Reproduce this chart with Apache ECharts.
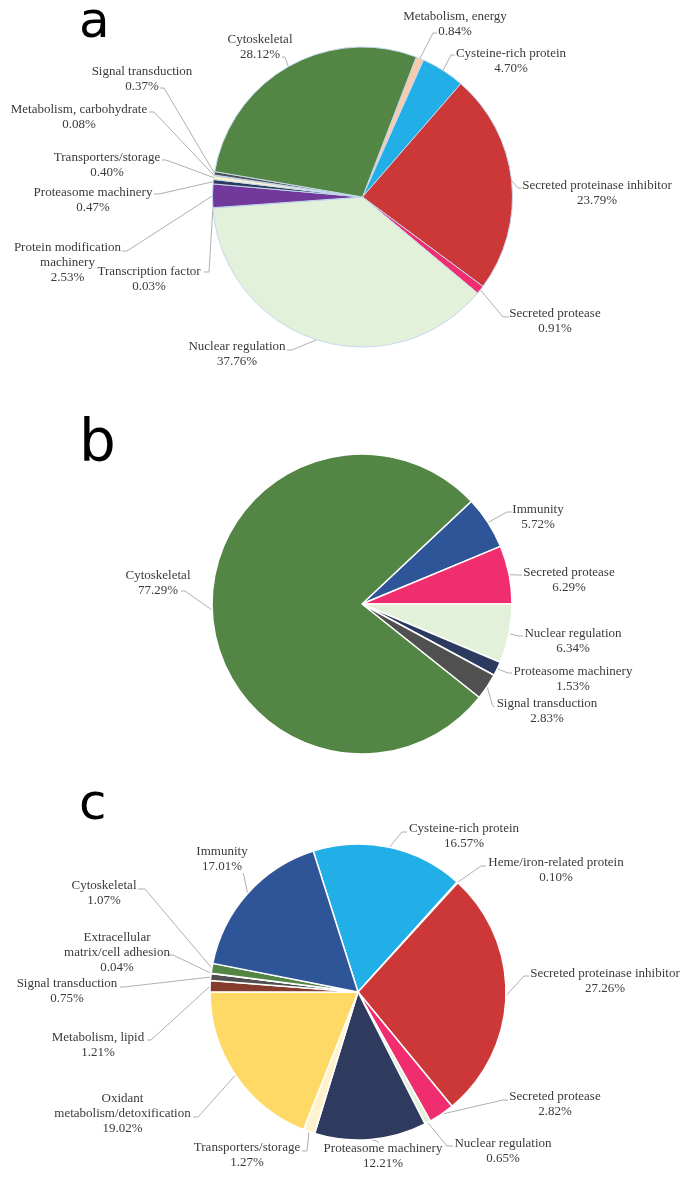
<!DOCTYPE html>
<html><head><meta charset="utf-8">
<script src="https://cdn.jsdelivr.net/npm/echarts@6/dist/echarts.min.js"></script>
<style>html,body{margin:0;padding:0;background:#fff}#c{width:697px;height:1179px}</style>
</head><body><div id="c"></div>
<script>
// ---- Data (percentages) ----
const catsA = ['Metabolism, energy','Cysteine-rich protein','Secreted proteinase inhibitor','Secreted protease','Nuclear regulation','Transcription factor','Protein modification\nmachinery','Proteasome machinery','Transporters/storage','Metabolism, carbohydrate','Signal transduction','Cytoskeletal'];
const valsA = [0.84, 4.70, 23.79, 0.91, 37.76, 0.03, 2.53, 0.47, 0.40, 0.08, 0.37, 28.12];

const catsB = ['Immunity','Secreted protease','Nuclear regulation','Proteasome machinery','Signal transduction','Cytoskeletal'];
const valsB = [5.72, 6.29, 6.34, 1.53, 2.83, 77.29];

const catsC = ['Cysteine-rich protein','Heme/iron-related protein','Secreted proteinase inhibitor','Secreted protease','Nuclear regulation','Proteasome machinery','Transporters/storage','Oxidant\nmetabolism/detoxification','Metabolism, lipid','Signal transduction','Extracellular\nmatrix/cell adhesion','Cytoskeletal','Immunity'];
const valsC = [16.57, 0.10, 27.26, 2.82, 0.65, 12.21, 1.27, 19.02, 1.21, 0.75, 0.04, 1.07, 17.01];

const panelLetters = ['a','b','c'];

// ---- Styles ----
const colorsA = ['#F8CBAD','#22AEE6','#CC3838','#F02D6F','#E3F0DA','#BDD7EE','#71399A','#2E3A5E','#FFF2CC','#A5A5A5','#505050','#538645'];
const colorsB = ['#2E5597','#F02D6F','#E3F0DA','#2B3A5E','#505050','#538645'];
const colorsC = ['#22AEE6','#D9D9D9','#CC3838','#F02D6F','#E3F0DA','#2E3A5E','#FFF2CC','#FFD966','#843C2C','#505050','#7F7F7F','#538645','#2E5597'];

// ---- Label layout: [textCenterX, textCenterY, lineEndX, lineEndY, elbowX, elbowY] ----
const posA = [
  [455,24.5,437,33,433,33],
  [511,61,455,55,451,55],
  [597,193.5,522,188,518,188],
  [555,321,509,317,503,317],
  [237,354.5,287,350,292,350],
  [149,279.5,204,272,209,272],
  [67.5,263,122,251,127,251],
  [93,200,154,194,159,194],
  [107,165.5,162,160,166,160],
  [79,117,149,112,154,112],
  [142,79.5,160,88,164,88],
  [260,47.5,282,57,285,57]
];
const posB = [
  [538,517.5,512,512,507,512],
  [569,580,522,575,518,575],
  [573,641.5,523,636,519,636],
  [573,679,512,673,508,673],
  [547,711,494,707,492,704],
  [158,583.5,181,591,185,591]
];
const posC = [
  [464,836.5,407,832,402,832],
  [556,870.5,486,866,481,866],
  [605,981,529,976,524,976],
  [555,1104.5,508,1100,503,1100],
  [503,1151,453,1146,447,1146],
  [383,1156.5,379,1143,377,1141],
  [247,1155.5,302,1151,307,1151],
  [122.5,1114,193,1117,198,1117],
  [98,1045,147,1040,151,1040],
  [67,991.5,120,987,124,987],
  [117,953,169,955,173,955],
  [104,893.5,138,889,145,889],
  [222,859.5,243,873,244,876]
];

function makeLayout(pos){
  return function(params){
    const p = pos[params.dataIndex];
    const pts = params.labelLinePoints;
    const p0 = pts ? pts[0] : [p[4], p[5]];
    return {x:p[0], y:p[1], align:'center', verticalAlign:'middle',
      labelLinePoints:[p0,[p[4],p[5]],[p[2],p[3]]]};
  };
}

function pieSeries(cats, vals, colors, center, radius, startAngle, pos, border){
  return {
    type:'pie', center:center, radius:radius, startAngle:startAngle, clockwise:true,
    avoidLabelOverlap:false, animation:false, silent:true,
    data: cats.map((c,i)=>({name:c, value:vals[i], itemStyle:{color:colors[i]}})),
    itemStyle:{borderColor:border.color, borderWidth:border.width},
    label:{show:true, position:'outside', fontFamily:'Liberation Serif', fontSize:13,
      lineHeight:15, color:'#3A3A3A', align:'center',
      formatter: p => p.name + '\n' + p.value.toFixed(2) + '%'},
    labelLine:{show:true, length:8, length2:4, lineStyle:{color:'#A6A6A6', width:0.9}},
    labelLayout: makeLayout(pos),
    emphasis:{disabled:true}
  };
}

const chart = echarts.init(document.getElementById('c'), null, {renderer:'canvas'});
chart.setOption({
  backgroundColor:'#ffffff',
  animation:false,
  graphic:[
    {type:'text', left:79, top:-1, style:{text:panelLetters[0], font:'50px "DejaVu Sans"', fill:'#000'}},
    {type:'text', left:79, top:417, style:{text:panelLetters[1], font:'58px "DejaVu Sans"', fill:'#000'}},
    {type:'text', left:79, top:781, style:{text:panelLetters[2], font:'50px "DejaVu Sans"', fill:'#000'}}
  ],
  series:[
    pieSeries(catsA, valsA, colorsA, [362.5,197], 150, 69, posA, {color:'#C5DAEE', width:1}),
    pieSeries(catsB, valsB, colorsB, [362,604], 150, 43.2, posB, {color:'#ffffff', width:1.5}),
    pieSeries(catsC, valsC, colorsC, [358,992], 148, 107.6, posC, {color:'#ffffff', width:1.5})
  ]
});
</script>
</body></html>
